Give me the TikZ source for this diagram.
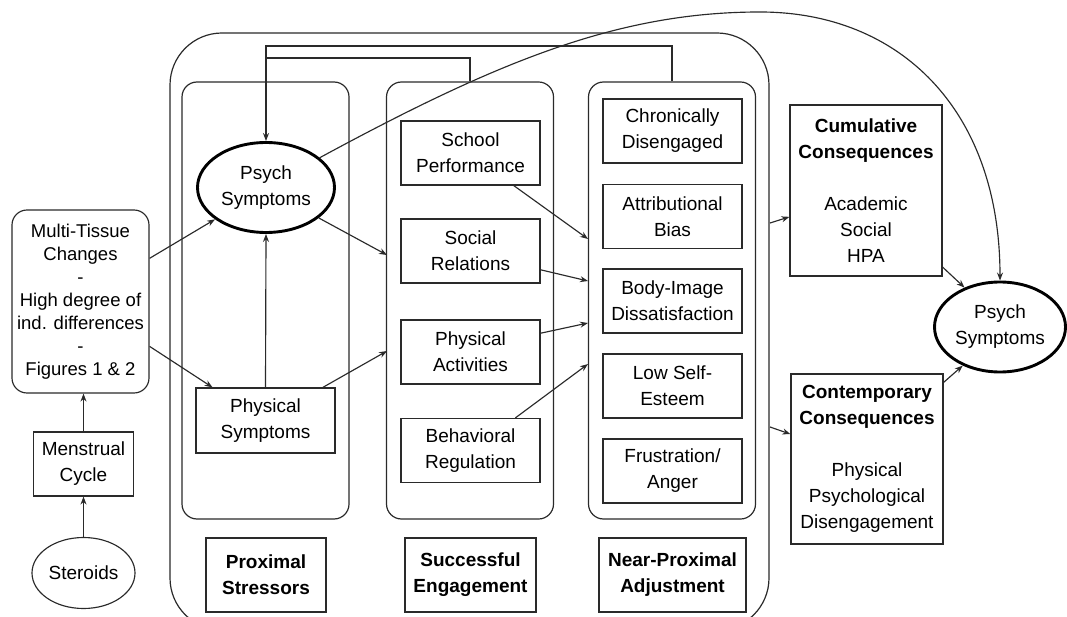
\documentclass[tikz,border=0pt]{standalone}
\usepackage{fontspec}
\setmainfont{Liberation Sans}
\usetikzlibrary{arrows.meta, shapes.geometric, positioning}
\definecolor{lineGrey}{HTML}{2A2A2A}
\newcommand{\boxfont}{\fontsize{19}{26}\selectfont}
\newcommand{\smallboxfont}{\fontsize{18.5}{23}\selectfont}
\newcommand{\lblfont}{\fontsize{19}{26}\selectfont\bfseries}
\tikzset{
  % thin grey lines and small tips, as in the printed figure
  every picture/.append style = {line width=1.15pt, >={Stealth[length=8pt, width=6pt]}},
  box/.style    = {draw=lineGrey, rectangle, inner sep=0pt, align=center, font=\boxfont,
                   minimum width=139pt, minimum height=64pt},
  panel/.style  = {draw=lineGrey, line width=1.2pt, rounded corners=15pt,
                   minimum width=167pt, minimum height=437pt},
  lbl/.style    = {box, font=\lblfont, minimum height=74pt},
  symp/.style   = {ellipse, draw=black, line width=2.9pt, inner sep=0pt, align=center, font=\boxfont},
  arr/.style    = {->, lineGrey},
}
\begin{document}
\begin{tikzpicture}[x=1pt, y=-1pt]
  \useasboundingbox (0,0) rectangle (1067,617);
  \clip (0,0) rectangle (1067,617);
  % big frame round the three stages
  \node[draw=lineGrey, line width=1.2pt, rounded corners=52pt, minimum width=599pt,
        minimum height=597pt] (outer) at (469.5,331.5) {};
  \node[panel] (pan1) at (265.5,300.5) {};
  \node[panel] (pan2) at (470,300.5) {};
  \node[panel] (pan3) at (672,300.5) {};
  % left column
  \node[box, rounded corners=15pt, minimum width=137pt, minimum height=183pt, font=\smallboxfont]
    (multi) at (80.5,301.5) {Multi-Tissue\\Changes\\-\\High degree of\\ind. differences\\-\\Figures 1 \& 2};
  \node[box, minimum width=100pt] (menst) at (83.5,464) {Menstrual\\Cycle};
  \node[ellipse, draw=lineGrey, inner sep=0pt, font=\boxfont, minimum width=103pt,
        minimum height=71pt] (ster) at (83.5,573) {Steroids};
  % proximal stressors
  \node[symp, minimum width=137pt, minimum height=90pt] (psychL) at (266,187.5) {Psych\\Symptoms};
  \node[box, minimum height=65pt] (physsym) at (265.5,420.5) {Physical\\Symptoms};
  % successful engagement
  \node[box] (school)  at (470.5,153)   {School\\Performance};
  \node[box] (social)  at (470.5,251)   {Social\\Relations};
  \node[box] (physact) at (470.5,352)   {Physical\\Activities};
  \node[box] (behav)   at (470.5,450.5) {Behavioral\\Regulation};
  % near-proximal adjustment
  \node[box] (chron)  at (672.5,131)   {Chronically\\Disengaged};
  \node[box] (attrib) at (672.5,216.5) {Attributional\\Bias};
  \node[box] (body)   at (672.5,301)   {Body-Image\\Dissatisfaction};
  \node[box] (esteem) at (672.5,386)   {Low Self-\\Esteem};
  \node[box] (frust)  at (672.5,471)   {Frustration/\\Anger};
  % stage labels
  \node[lbl, minimum width=120pt] (proxlbl)   at (266,575)   {Proximal\\Stressors};
  \node[lbl, minimum width=131pt] (engagelbl) at (470.5,575) {Successful\\Engagement};
  \node[lbl, minimum width=147pt] (adjustlbl) at (672.5,575) {Near-Proximal\\Adjustment};
  % consequences
  \node[box, minimum width=152pt, minimum height=171pt] (cumul) at (866,190.5)
    {\textbf{Cumulative}\\\textbf{Consequences}\\[26pt]Academic\\Social\\HPA};
  \node[box, minimum width=152pt, minimum height=170pt] (contemp) at (867,459)
    {\textbf{Contemporary}\\\textbf{Consequences}\\[26pt]Physical\\Psychological\\Disengagement};
  \node[symp, minimum width=131pt, minimum height=90pt] (psychR) at (1000,327) {Psych\\Symptoms};
  % free ends on the panel and frame edges
  \coordinate (in2a) at (387,255);
  \coordinate (in2b) at (387,351);
  \coordinate (in3a) at (588,239);
  \coordinate (in3b) at (588,281);
  \coordinate (in3c) at (588,323);
  \coordinate (in3d) at (588,364);
  \coordinate (outA) at (770,223);
  \coordinate (outB) at (770,427);
  \coordinate (fbtop) at (0,46);
  \coordinate (fbmid) at (0,58);
  \coordinate (peak) at (760,12);
  % arrows
  \draw[arr] (ster) -- (menst);
  \draw[arr] (menst.north) -- (multi.south -| menst.north);
  \draw[arr] (multi.32) -- (psychL.212);
  \draw[arr] (multi.-33) -- (physsym.148);
  \draw[arr] (physsym.north) -- (psychL.south);
  \draw[arr] (psychL.-30) -- (in2a);
  \draw[arr] (physsym.30) -- (in2b);
  \draw[arr] (school.-37) -- (in3a);
  \draw[arr] (social.-15) -- (in3b);
  \draw[arr] (physact.15) -- (in3c);
  \draw[arr] (behav.36) -- (in3d);
  \draw[lineGrey] (pan2.north) |- (psychL.north |- fbmid);
  \draw[arr] (pan3.north) |- (psychL.north |- fbtop) -- (psychL.north);
  \draw[arr] (outA) -- (cumul.199);
  \draw[arr] (outB) -- (contemp.162);
  \draw[arr] (cumul.-45) -- (psychR.132);
  \draw[arr] (contemp.45) -- (psychR.226);
  \draw[arr] (psychL.29) .. controls (500,60) and (620,12) .. (peak)
    .. controls (900,12) and (1000,110) .. (psychR.north);
\end{tikzpicture}
\end{document}
